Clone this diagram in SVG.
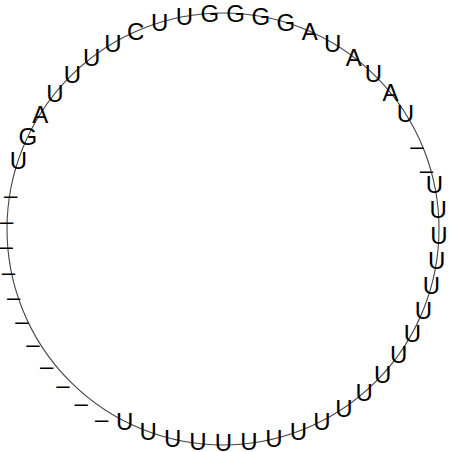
<svg xmlns="http://www.w3.org/2000/svg" width="452" height="452" viewBox="0 0 452 452">
<style>
text{font-family:"Liberation Sans",Arial,Helvetica,sans-serif;font-size:24px;text-anchor:middle;fill:#000}
.bb{fill:none;stroke:#444;stroke-width:1.1}
</style>
<rect width="452" height="452" fill="#fff"/>
<g id="connectors">
<circle class="bb" cx="223" cy="229" r="216"/>
</g>
<g id="n1"><text x="18.3" y="168.7">U</text></g>
<g id="n2"><text x="27.9" y="145.0">G</text></g>
<g id="n3"><text x="40.2" y="122.6">A</text></g>
<g id="n4"><text x="55.0" y="101.8">U</text></g>
<g id="n5"><text x="72.3" y="82.9">U</text></g>
<g id="n6"><text x="91.7" y="66.1">U</text></g>
<g id="n7"><text x="112.9" y="51.8">U</text></g>
<g id="n8"><text x="135.7" y="40.1">C</text></g>
<g id="n9"><text x="159.6" y="31.1">U</text></g>
<g id="n10"><text x="184.5" y="25.1">U</text></g>
<g id="n11"><text x="209.9" y="22.0">G</text></g>
<g id="n12"><text x="235.5" y="22.0">G</text></g>
<g id="n13"><text x="260.9" y="25.0">G</text></g>
<g id="n14"><text x="285.8" y="30.9">G</text></g>
<g id="n15"><text x="309.8" y="39.8">A</text></g>
<g id="n16"><text x="332.6" y="51.5">U</text></g>
<g id="n17"><text x="353.8" y="65.7">A</text></g>
<g id="n18"><text x="373.3" y="82.4">U</text></g>
<g id="n19"><text x="390.6" y="101.3">A</text></g>
<g id="n20"><text x="405.5" y="122.1">U</text></g>
<g id="n21"><text x="416.9" y="154.2">–</text></g>
<g id="n22"><text x="426.5" y="178.0">–</text></g>
<g id="n23"><text x="434.3" y="192.8">U</text></g>
<g id="n24"><text x="438.1" y="218.1">U</text></g>
<g id="n25"><text x="438.9" y="243.7">U</text></g>
<g id="n26"><text x="436.7" y="269.2">U</text></g>
<g id="n27"><text x="431.4" y="294.2">U</text></g>
<g id="n28"><text x="423.3" y="318.5">U</text></g>
<g id="n29"><text x="412.3" y="341.6">U</text></g>
<g id="n30"><text x="398.7" y="363.3">U</text></g>
<g id="n31"><text x="382.6" y="383.2">U</text></g>
<g id="n32"><text x="364.2" y="401.0">U</text></g>
<g id="n33"><text x="343.9" y="416.6">U</text></g>
<g id="n34"><text x="321.9" y="429.6">U</text></g>
<g id="n35"><text x="298.5" y="439.5">U</text></g>
<g id="n36"><text x="274.0" y="446.5">U</text></g>
<g id="n37"><text x="248.8" y="450.0">U</text></g>
<g id="n38"><text x="223.3" y="450.8">U</text></g>
<g id="n39"><text x="197.8" y="450.0">U</text></g>
<g id="n40"><text x="172.6" y="446.6">U</text></g>
<g id="n41"><text x="148.1" y="439.7">U</text></g>
<g id="n42"><text x="124.6" y="429.9">U</text></g>
<g id="n43"><text x="101.6" y="426.7">–</text></g>
<g id="n44"><text x="81.2" y="411.2">–</text></g>
<g id="n45"><text x="62.9" y="393.4">–</text></g>
<g id="n46"><text x="46.7" y="373.6">–</text></g>
<g id="n47"><text x="33.0" y="352.0">–</text></g>
<g id="n48"><text x="21.9" y="328.9">–</text></g>
<g id="n49"><text x="13.7" y="304.6">–</text></g>
<g id="n50"><text x="8.4" y="279.6">–</text></g>
<g id="n51"><text x="6.1" y="254.1">–</text></g>
<g id="n52"><text x="6.8" y="228.5">–</text></g>
<g id="n53"><text x="10.6" y="203.2">–</text></g>
</svg>
